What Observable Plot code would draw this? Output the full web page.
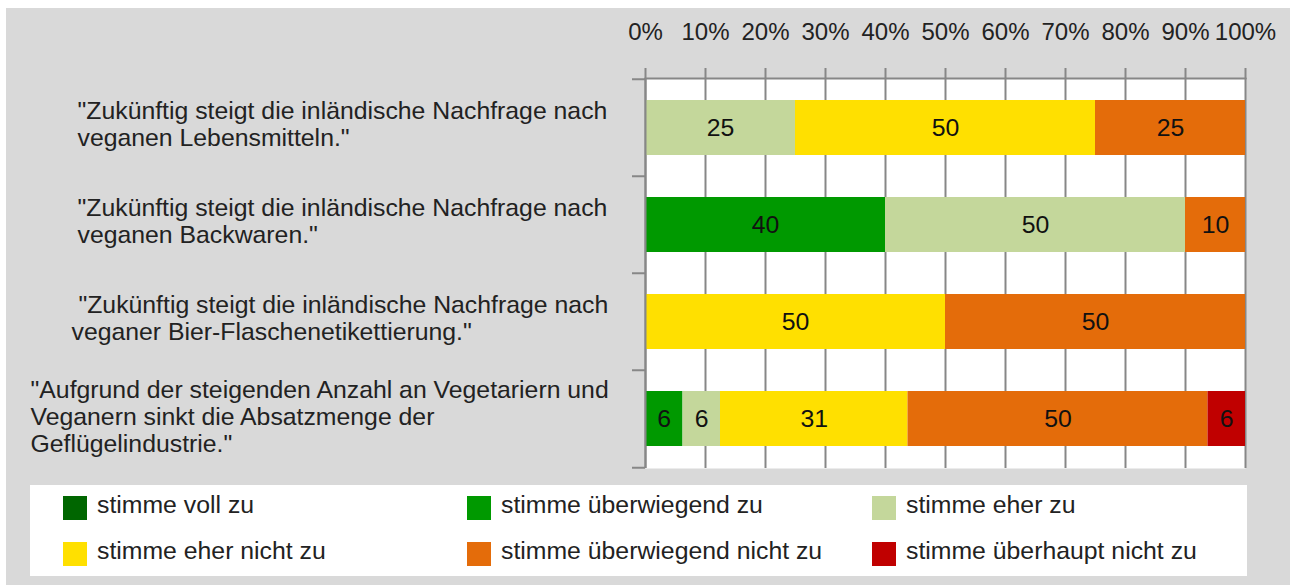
<!DOCTYPE html>
<html>
<head>
<meta charset="utf-8">
<script src="https://cdn.jsdelivr.net/npm/d3@7"></script>
<script src="https://cdn.jsdelivr.net/npm/@observablehq/plot@0.6"></script>
<style>
  html, body { margin: 0; padding: 0; background: #ffffff; }
  #panel { position: absolute; left: 6px; top: 8px; width: 1284px; height: 577px; background: #d9d9d9;
           font-family: "Liberation Sans", Arial, sans-serif; color: #222; }
  #chart { position: absolute; left: 0; top: 0; }
  #legend { position: absolute; left: 24px; top: 477px; width: 1217px; height: 91px; background: #ffffff; }
  .item { position: absolute; display: flex; align-items: center; font-size: 24.8px; height: 24px; white-space: nowrap; }
  .sw { width: 24px; height: 24px; margin-right: 10px; flex: none; }
  .lt { position: relative; top: -3px; }
</style>
</head>
<body>
<div id="panel">
  <div id="chart"></div>
  <div id="legend"></div>
</div>
<script>
// ---- data ----
const statements = [
  "\"Zukünftig steigt die inländische Nachfrage nach\nveganen Lebensmitteln.\"",
  "\"Zukünftig steigt die inländische Nachfrage nach\nveganen Backwaren.\"",
  "\u00a0\"Zukünftig steigt die inländische Nachfrage nach\nveganer Bier-Flaschenetikettierung.\"",
  "\"Aufgrund der steigenden Anzahl an Vegetariern und\nVeganern sinkt die Absatzmenge der\nGeflügelindustrie.\""
];
const categories = [
  "stimme voll zu",
  "stimme überwiegend zu",
  "stimme eher zu",
  "stimme eher nicht zu",
  "stimme überwiegend nicht zu",
  "stimme überhaupt nicht zu"
];
const colors = ["#006600", "#009900", "#c4d79b", "#ffe000", "#e46c0a", "#c00000"];
// shares (%) per statement, in category order
const valuesRow1 = [0, 0, 25, 50, 25, 0];
const valuesRow2 = [0, 40, 50, 0, 10, 0];
const valuesRow3 = [0, 0, 0, 50, 50, 0];
const valuesRow4 = [0, 6.25, 6.25, 31.25, 50, 6.25];
const xTicks = [0, 0.1, 0.2, 0.3, 0.4, 0.5, 0.6, 0.7, 0.8, 0.9, 1];

const valueRows = [valuesRow1, valuesRow2, valuesRow3, valuesRow4];
const rows = [];
statements.forEach((s, i) => {
  valueRows[i].forEach((v, j) => {
    if (v > 0) rows.push({statement: s, category: categories[j], value: v});
  });
});

const gray = "#878787";
const font = "24.8px";
const halfStep = 48.75;

const chart = Plot.plot({
  width: 1284,
  height: 472,
  marginLeft: 639,
  marginRight: 45,
  marginTop: 70,
  marginBottom: 12,
  style: {background: "transparent", fontFamily: "'Liberation Sans', Arial, sans-serif", fontSize: font, color: "#222"},
  x: {domain: [0, 1], label: null},
  y: {domain: statements, paddingInner: 0.43, paddingOuter: 0.215, label: null, axis: null},
  color: {domain: categories, range: colors},
  marks: [
    Plot.frame({fill: "white", stroke: null}),
    Plot.gridX(xTicks, {stroke: gray, strokeOpacity: 1, strokeWidth: 2}),
    Plot.axisX(xTicks, {anchor: "top", tickSize: 11, tickPadding: 28, tickFormat: d3.format(".0%"),
      stroke: gray, strokeWidth: 2, fill: "#222", fontSize: "24px", label: null}),
    Plot.barX(rows, Plot.stackX({x: "value", y: "statement", fill: "category", offset: "normalize"})),
    Plot.text(rows, Plot.stackX({x: "value", y: "statement", z: "category", text: d => String(Math.round(d.value)),
      offset: "normalize", fill: "#111", fontSize: font})),
    Plot.ruleX([0], {stroke: gray, strokeWidth: 2}),
    Plot.frame({anchor: "top", stroke: gray, strokeWidth: 2}),
    Plot.axisY({anchor: "left", tickSize: 13, tickFormat: () => "", stroke: gray, strokeWidth: 2, dy: -halfStep}),
    Plot.axisY([statements[statements.length - 1]], {anchor: "left", tickSize: 13, tickFormat: () => "", stroke: gray, strokeWidth: 2, dy: halfStep}),
    Plot.text(statements.slice(0, 2), {y: d => d, text: d => d, frameAnchor: "left", textAnchor: "start",
      lineAnchor: "middle", dx: -568, dy: -4, lineHeight: 1.09, fill: "#222", fontSize: font}),
    Plot.text(statements.slice(2, 3), {y: d => d, text: d => d, frameAnchor: "left", textAnchor: "start",
      lineAnchor: "middle", dx: -574, dy: -4, lineHeight: 1.09, fill: "#222", fontSize: font}),
    Plot.text(statements.slice(3, 4), {y: d => d, text: d => d, frameAnchor: "left", textAnchor: "start",
      lineAnchor: "middle", dx: -615, dy: -3, lineHeight: 1.09, fill: "#222", fontSize: font})
  ]
});
document.getElementById("chart").appendChild(chart);

// legend
const legend = document.getElementById("legend");
const colX = [33, 437, 842];
const rowY = [11, 57];
categories.forEach((c, i) => {
  const item = document.createElement("div");
  item.className = "item";
  item.style.left = colX[i % 3] + "px";
  item.style.top = rowY[Math.floor(i / 3)] + "px";
  const sw = document.createElement("span");
  sw.className = "sw";
  sw.style.background = colors[i];
  const t = document.createElement("span");
  t.className = "lt";
  t.textContent = c;
  item.appendChild(sw);
  item.appendChild(t);
  legend.appendChild(item);
});
</script>
</body>
</html>
